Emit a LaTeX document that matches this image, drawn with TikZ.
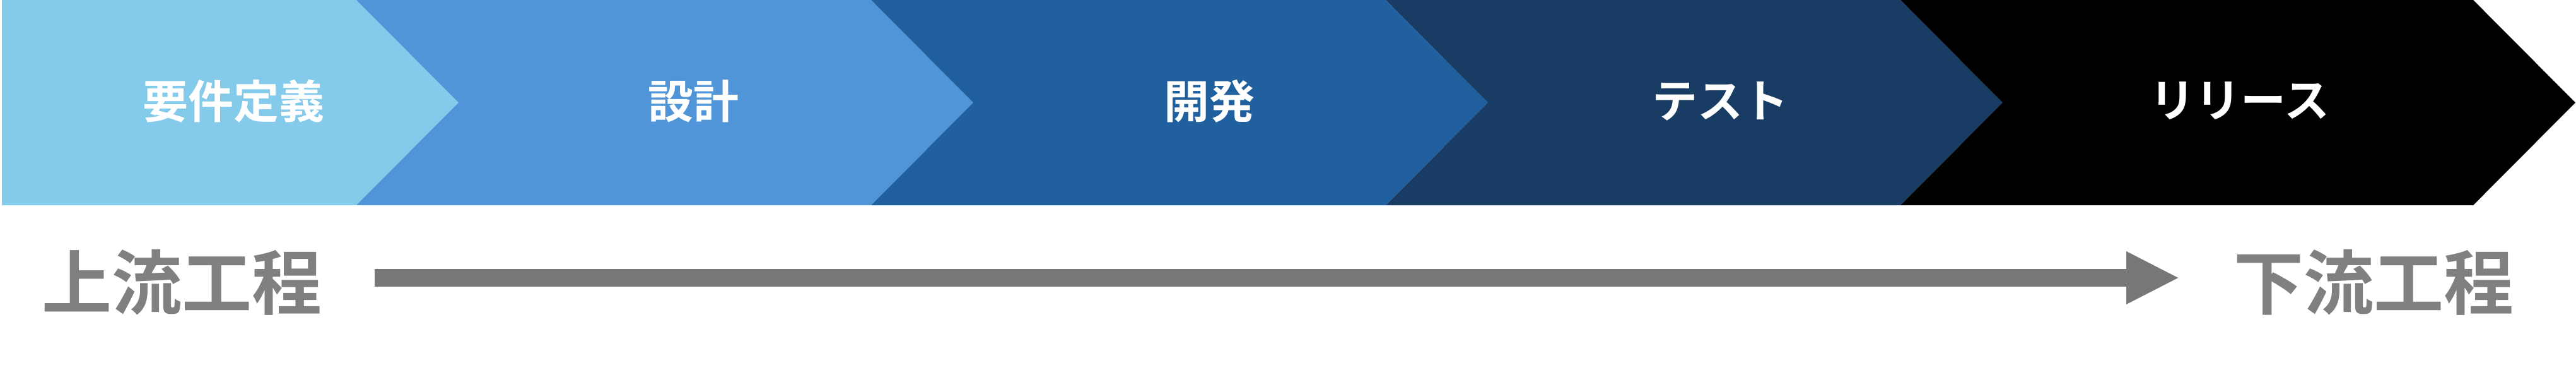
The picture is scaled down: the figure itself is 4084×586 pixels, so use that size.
\documentclass[tikz,border=0pt]{standalone}
\usepackage{fontspec}
\newfontfamily\jp{Noto Sans CJK JP Bold}
\usetikzlibrary{arrows.meta}
\definecolor{cA}{HTML}{84CAEB}
\definecolor{cB}{HTML}{5095D8}
\definecolor{cC}{HTML}{21609E}
\definecolor{cD}{HTML}{183C63}
\definecolor{cE}{HTML}{000000}
\definecolor{txtgray}{HTML}{808080}
\definecolor{arrgray}{HTML}{777777}
\begin{document}
\begin{tikzpicture}[x=1pt,y=-1pt,
  phase/.style={text=white,font=\jp\fontsize{72pt}{80pt}\selectfont,inner sep=0pt,anchor=center},
  stage/.style={text=txtgray,font=\jp\fontsize{111pt}{120pt}\selectfont,inner sep=0pt,anchor=center},
  flow/.style={draw=arrgray,line width=28pt,-{Triangle[length=82pt,width=84pt,line width=0.01pt]}}]
\useasboundingbox (0,0) rectangle (4084,586);
\fill[white] (0,0) rectangle (4084,586);
% chevrons
\fill[cA] (3,0) -- (565,0) -- (727,162.5) -- (565,325) -- (3,325) -- cycle;
\fill[cB] (565,0) -- (1381,0) -- (1543,162.5) -- (1381,325) -- (565,325) -- (727,162.5) -- cycle;
\fill[cC] (1381,0) -- (2197,0) -- (2359,162.5) -- (2197,325) -- (1381,325) -- (1543,162.5) -- cycle;
\fill[cD] (2197,0) -- (3013,0) -- (3175,162.5) -- (3013,325) -- (2197,325) -- (2359,162.5) -- cycle;
\fill[cE] (3013,0) -- (3921,0) -- (4083,162.5) -- (3921,325) -- (3013,325) -- (3175,162.5) -- cycle;
% labels
\node[phase] (p1) at (370,160) {要件定義};
\node[phase] (p2) at (1099,160) {設計};
\node[phase] (p3) at (1917,160) {開発};
\node[phase] (p4) at (2727,160) {テスト};
\node[phase] (p5) at (3551,160) {リリース};
\node[stage] (up) at (288.5,447) {上流工程};
\node[stage] (down) at (3763,447) {下流工程};
\coordinate (as) at (594,440);
\coordinate (ae) at (3453,440);
\draw[flow] (as) -- (ae);
\end{tikzpicture}
\end{document}
